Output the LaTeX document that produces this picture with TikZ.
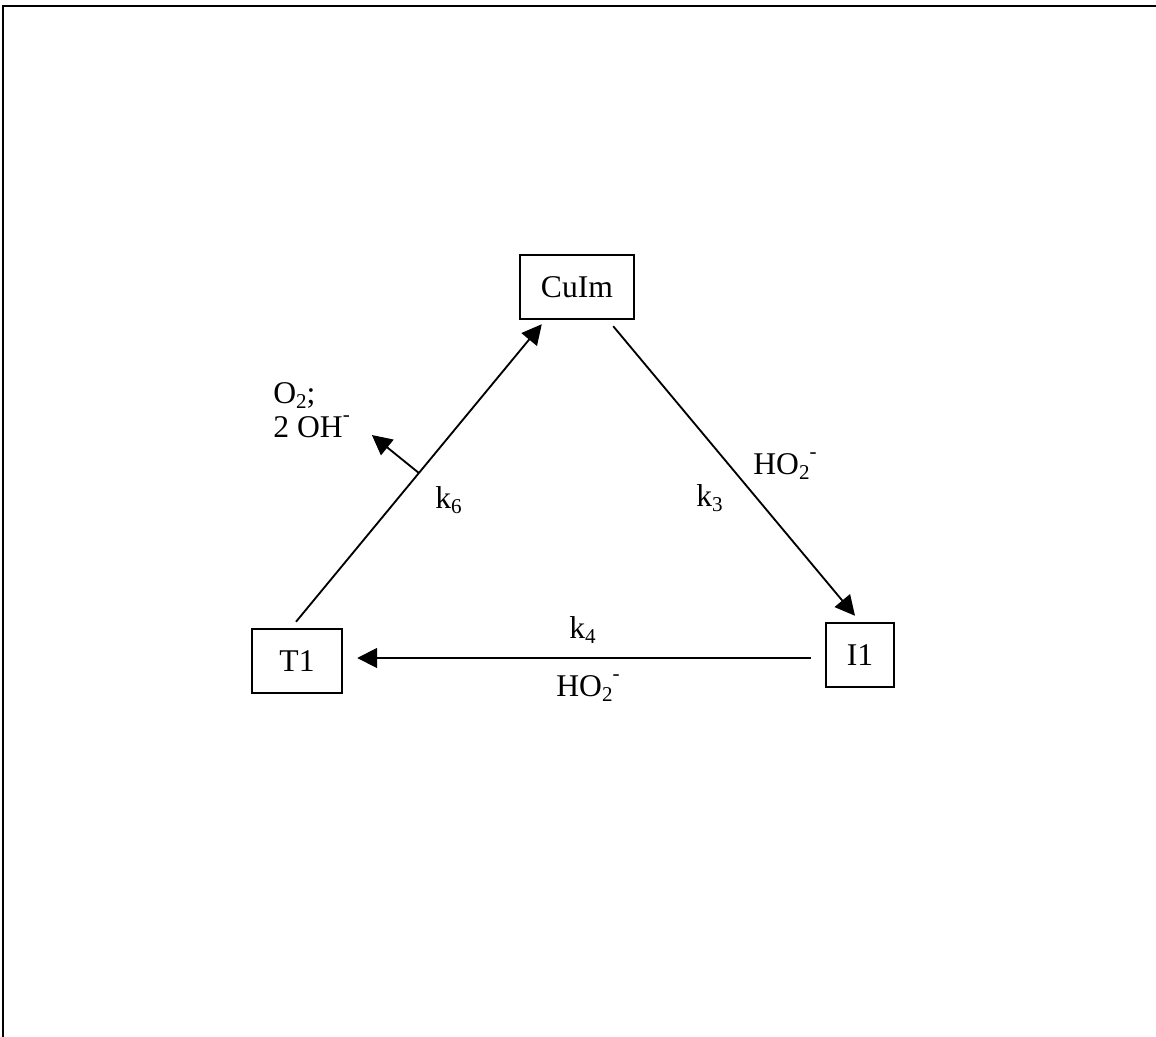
\documentclass[tikz,border=0pt]{standalone}
\usepackage{fontspec}
\setmainfont{Liberation Serif}
\usetikzlibrary{arrows.meta}
\newcommand\mysub[1]{\raisebox{-0.17em}{\fontsize{12}{12}\selectfont #1}}
\newcommand\mysup[1]{\raisebox{0.5em}{\fontsize{12}{12}\selectfont #1}}
\tikzset{
  box/.style={draw, line width=1.4pt, rectangle, inner sep=0pt, font=\fontsize{18}{22}\selectfont},
  lbl/.style={anchor=base west, inner sep=0pt, font=\fontsize{18}{22}\selectfont},
  arr/.style={line width=1.05pt, -{Triangle[length=11.3pt,width=11.3pt]}},
  frame/.style={line width=1.25pt}
}
\begin{document}
\begin{tikzpicture}[x=0.02cm, y=-0.02cm]
\useasboundingbox (0,0) rectangle (1156,1037);
% outer frame (top and left edges visible)
\coordinate (ftr) at (1156,6);
\coordinate (ftl) at (3,6);
\coordinate (fbl) at (3,1037);
\draw[frame] (ftr) -- (ftl) -- (fbl);
% boxes
\node[box, minimum width=2.28cm, minimum height=1.28cm] (CuIm) at (577,287) {CuIm};
\node[box, minimum width=1.80cm, minimum height=1.28cm] (T1) at (297,661) {T1};
\node[box, minimum width=1.36cm, minimum height=1.28cm] (I1) at (860,655) {I1};
% connectors
\draw[arr] ([shift={(-1,-6)}]T1.north) -- coordinate[pos=0.5] (b) ([shift={(23,4)}]CuIm.south west);
\draw[arr] ([shift={(-22,6)}]CuIm.south east) -- ([shift={(-5,-6)}]I1.north);
\draw[arr] ([shift={(-14,3)}]I1.west) -- ([shift={(14,-3)}]T1.east);
\coordinate (bt) at ([shift={(-47,-38)}]b);
\draw[arr] (b) -- (bt);
% labels
\node[lbl] (o2) at (273,403) {O\mysub{2};};
\node[lbl] (oh) at (273,437) {2 OH\mysup{-}};
\node[lbl] (k6) at (435,508) {k\mysub{6}};
\node[lbl] (k3) at (696,506) {k\mysub{3}};
\node[lbl] (ho1) at (753,474) {HO\mysub{2}\mysup{-}};
\node[lbl] (k4) at (569,638) {k\mysub{4}};
\node[lbl] (ho2) at (556,696) {HO\mysub{2}\mysup{-}};
\end{tikzpicture}
\end{document}
